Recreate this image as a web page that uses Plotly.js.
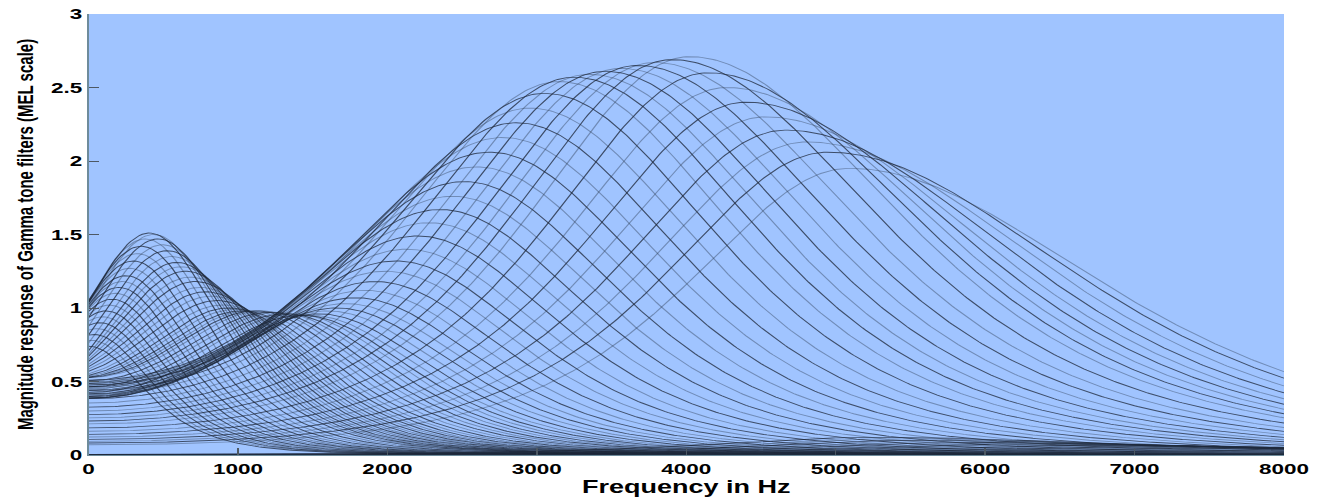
<!DOCTYPE html>
<html>
<head>
<meta charset="utf-8">
<script src="https://cdn.plot.ly/plotly-3.0.1.min.js"></script>
<style>
  html, body { margin: 0; padding: 0; background: #ffffff; overflow: hidden; }
  /* the figure is laid out at 880px and widened to the 1320px frame */
  #chart { width: 880px; height: 498px; transform: scaleX(1.5); transform-origin: 0 0; }
</style>
</head>
<body>
<div id="chart"></div>
<script>
// Centre frequencies of the gammatone bank (Hz), spaced on the MEL scale
const centerHz = [
  0, 18, 37, 56, 75, 95, 116, 137, 158, 180,
  203, 226, 250, 275, 300, 326, 352, 379, 407, 435,
  465, 495, 526, 557, 590, 623, 657, 692, 728, 765,
  802, 841, 881, 922, 964, 1006, 1050, 1096, 1142, 1189,
  1238, 1288, 1339, 1392, 1446, 1501, 1558, 1616, 1676, 1737,
  1800, 1865, 1931, 1999, 2068, 2139, 2213, 2288, 2365, 2444,
  2525, 2608, 2693, 2781, 2871, 2963, 3057, 3154, 3254, 3355,
  3460, 3567, 3677, 3790, 3906, 4025, 4147, 4272, 4400, 4531,
  4666, 4805, 4947, 5092, 5242, 5395, 5552, 5713, 5879, 6048,
  6222, 6401, 6584, 6772, 6964, 7162, 7365, 7573, 7786, 8005
];

// Peak magnitude of each filter
const peakGain = [
  0.74, 0.78, 0.82, 0.86, 0.90, 0.94, 0.98, 1.02, 1.06, 1.10,
  1.14, 1.18, 1.22, 1.27, 1.32, 1.37, 1.42, 1.47, 1.51, 1.50,
  1.47, 1.43, 1.39, 1.35, 1.31, 1.28, 1.25, 1.21, 1.18, 1.14,
  1.11, 1.08, 1.05, 1.02, 1.00, 0.99, 0.98, 0.98, 0.98, 0.98,
  0.97, 0.97, 0.96, 0.96, 0.95, 0.95, 0.96, 0.98, 1.00, 1.03,
  1.07, 1.12, 1.18, 1.25, 1.32, 1.40, 1.49, 1.58, 1.67, 1.76,
  1.86, 1.96, 2.06, 2.16, 2.26, 2.36, 2.46, 2.54, 2.57, 2.59,
  2.61, 2.63, 2.65, 2.67, 2.69, 2.71, 2.60, 2.50, 2.40, 2.30,
  2.21, 2.13, 2.06, 1.95, 0.12, 0.11, 0.10, 0.09, 0.085, 0.08,
  0.075, 0.07, 0.065, 0.06, 0.055, 0.05, 0.045, 0.04, 0.035, 0.03
];

// Filter bandwidth grows with centre frequency; the low-frequency flank is limited
const bandwidthBaseHz = 700;
const bandwidthSlope = 0.48;
const lowSideLimitHz = 2000;
// the image lobe (negative-frequency side) fades in between these centre frequencies
const imageLobeStartHz = 600;
const imageLobeFullHz = 1200;

const xTickVals = [0, 1000, 2000, 3000, 4000, 5000, 6000, 7000, 8000];
const yTickVals = [0, 0.5, 1, 1.5, 2, 2.5, 3];
const yTickText = ['0', '0.5', '1', '1.5', '2', '2.5', '3'];

// frequency axis sampling
const freqAxis = [];
for (let f = 0; f <= 8000; f += 20) freqAxis.push(f);

// 4th-order gammatone lobe
function lobe(d, bw) {
  const u = d / bw;
  return Math.pow(1 + u * u, -2);
}

// magnitude response normalised to 1 at the centre frequency
function gammatoneMagnitude(f, fc) {
  const bwHigh = bandwidthBaseHz + bandwidthSlope * fc;
  const bwLow = Math.min(bwHigh, lowSideLimitHz);
  const w = Math.min(1, Math.max(0, (fc - imageLobeStartHz) / (imageLobeFullHz - imageLobeStartHz)));
  const main = lobe(f - fc, f < fc ? bwLow : bwHigh);
  const image = w * lobe(f + fc, bwLow);
  const norm = 1 + w * lobe(2 * fc, bwLow);
  return (main + image) / norm;
}

const traces = centerHz.map((fc, i) => ({
  type: 'scatter',
  mode: 'lines',
  x: freqAxis,
  y: freqAxis.map(f => peakGain[i] * gammatoneMagnitude(f, fc)),
  line: {
    color: i % 2 === 0 ? 'rgba(28,38,55,0.75)' : 'rgba(40,55,75,0.40)',
    width: 0.9
  },
  hoverinfo: 'skip',
  showlegend: false
}));

const tickFont = { family: 'Liberation Sans, Arial, sans-serif', size: 15, color: '#000000', weight: 700 };

const layout = {
  width: 880,
  height: 498,
  margin: { l: 59.3, r: 24, t: 14, b: 43, pad: 0 },
  paper_bgcolor: '#ffffff',
  plot_bgcolor: '#a0c4ff',
  showlegend: false,
  xaxis: {
    range: [0, 8000],
    tickvals: xTickVals,
    ticktext: xTickVals.map(String),
    showgrid: false,
    zeroline: false,
    showline: true,
    linecolor: '#6e8b9b',
    linewidth: 1.2,
    ticks: 'inside',
    ticklen: 7,
    tickcolor: '#4d5863',
    tickfont: tickFont,
    title: {
      text: 'Frequency in Hz',
      font: { family: 'Liberation Sans, Arial, sans-serif', size: 18, color: '#000000', weight: 700 },
      standoff: 2
    }
  },
  yaxis: {
    range: [0, 3],
    tickvals: yTickVals,
    ticktext: yTickText,
    showgrid: false,
    zeroline: false,
    showline: true,
    linecolor: '#6e8b9b',
    linewidth: 1.2,
    ticks: 'inside',
    ticklen: 7,
    tickcolor: '#4d5863',
    tickfont: tickFont,
    title: {
      text: 'Magnitude response of Gamma tone filters (MEL scale)',
      font: { family: 'Liberation Sans Narrow, Arial Narrow, sans-serif', size: 15, color: '#000000', weight: 700 },
      standoff: 7
    }
  }
};

Plotly.newPlot('chart', traces, layout, { displayModeBar: false, staticPlot: true });
</script>
</body>
</html>
